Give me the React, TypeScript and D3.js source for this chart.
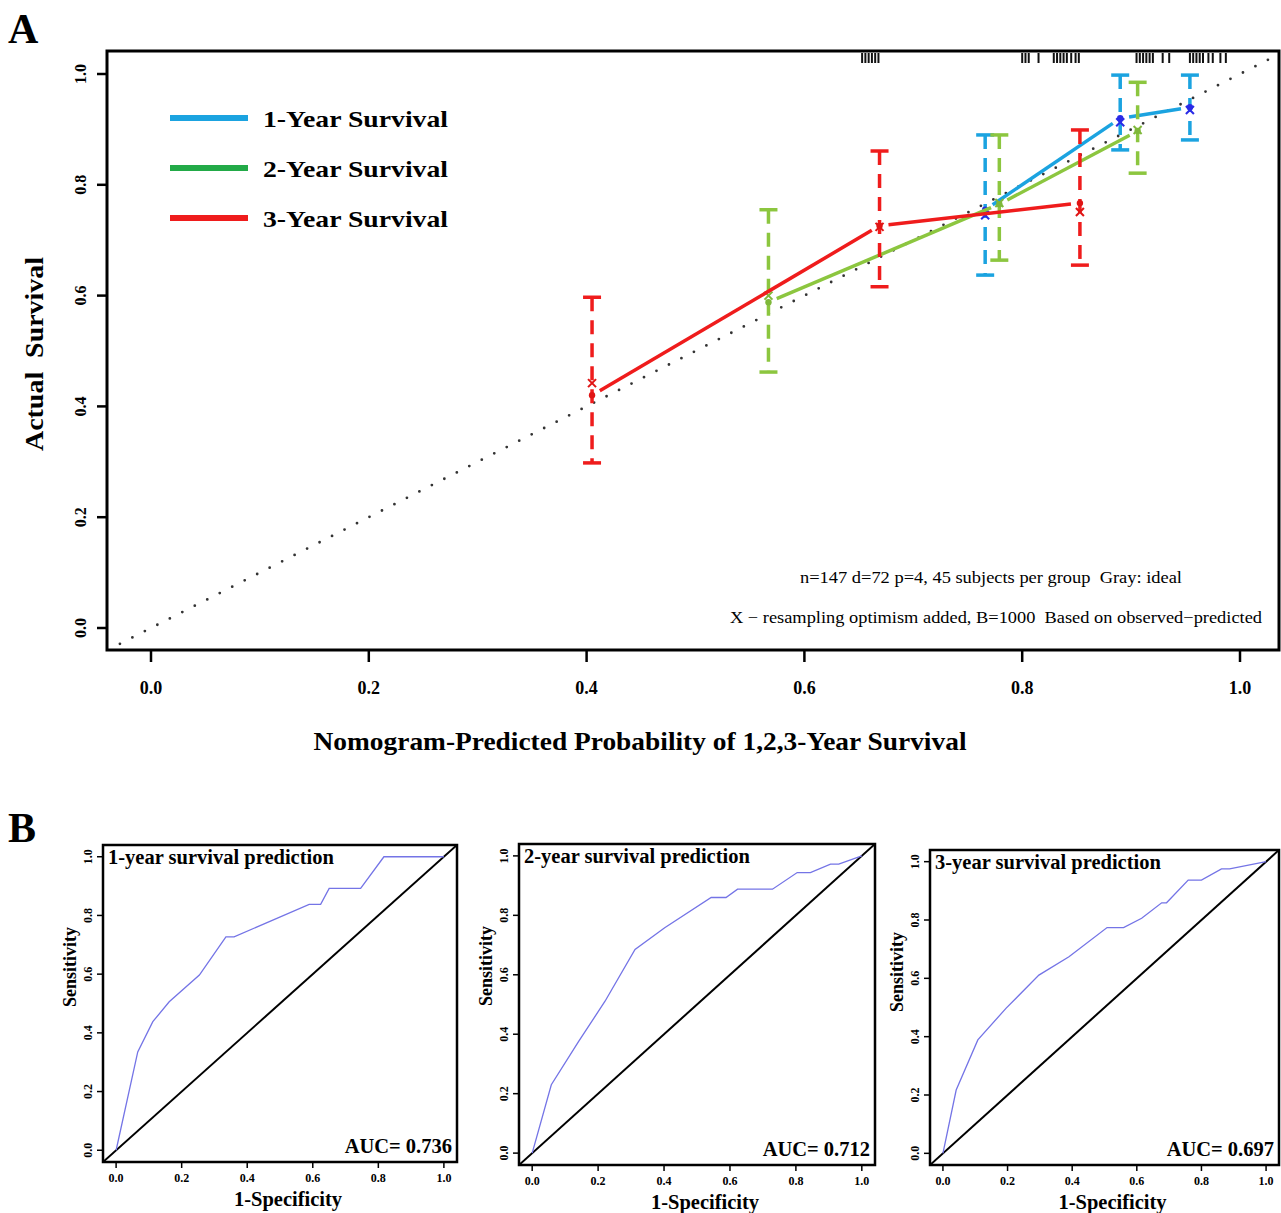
import React, { useEffect } from "react";
import * as d3 from "d3";

// ---------------- Data ----------------
const axisTicks = [0, 0.2, 0.4, 0.6, 0.8, 1.0];

const seriesNames = ["1-Year Survival", "2-Year Survival", "3-Year Survival"];

// 1-year
const pred1 = [0.766, 0.89, 0.954];
const obs1 = [0.755, 0.92, 0.94];
const corr1 = [0.745, 0.913, 0.935];
const lo1 = [0.637, 0.863, 0.881];
const hi1 = [0.89, 0.998, 0.998];
// 2-year
const pred2 = [0.567, 0.779, 0.906];
const obs2 = [0.588, 0.765, 0.897];
const corr2 = [0.6, 0.767, 0.899];
const lo2 = [0.462, 0.664, 0.821];
const hi2 = [0.755, 0.89, 0.985];
// 3-year
const pred3 = [0.405, 0.669, 0.853];
const obs3 = [0.42, 0.726, 0.767];
const corr3 = [0.442, 0.724, 0.751];
const lo3 = [0.298, 0.616, 0.655];
const hi3 = [0.597, 0.861, 0.899];

// rug of predicted values (top)
const rugValues = [
  0.653, 0.656, 0.659, 0.662, 0.665, 0.668,
  0.8, 0.803, 0.806, 0.815,
  0.829, 0.832, 0.835, 0.838, 0.841, 0.845, 0.849, 0.852,
  0.905, 0.908, 0.911, 0.914, 0.917, 0.92, 0.929, 0.935,
  0.954, 0.957, 0.96, 0.963, 0.966, 0.971, 0.975, 0.982, 0.987,
];

const noteLine1 = "n=147 d=72 p=4, 45 subjects per group  Gray: ideal";
const noteLine2 = "X \u2212 resampling optimism added, B=1000  Based on observed\u2212predicted";

// ROC data
const rocTitles = ["1-year survival prediction", "2-year survival prediction", "3-year survival prediction"];
const rocAUC = ["AUC= 0.736", "AUC= 0.712", "AUC= 0.697"];
const roc1X = [0, 0.066, 0.112, 0.162, 0.254, 0.335, 0.36, 0.589, 0.624, 0.65, 0.746, 0.817, 1];
const roc1Y = [0, 0.335, 0.438, 0.506, 0.597, 0.727, 0.727, 0.838, 0.838, 0.892, 0.892, 1, 1];
const roc2X = [0, 0.058, 0.141, 0.221, 0.312, 0.402, 0.543, 0.588, 0.623, 0.729, 0.804, 0.844, 0.905, 0.93, 0.985, 1];
const roc2Y = [0, 0.23, 0.376, 0.511, 0.685, 0.758, 0.86, 0.86, 0.888, 0.888, 0.944, 0.944, 0.972, 0.972, 0.994, 1];
const roc3X = [0, 0.041, 0.108, 0.195, 0.297, 0.39, 0.508, 0.559, 0.615, 0.677, 0.692, 0.759, 0.8, 0.862, 0.887, 1];
const roc3Y = [0, 0.217, 0.389, 0.497, 0.611, 0.674, 0.774, 0.774, 0.806, 0.859, 0.859, 0.937, 0.937, 0.975, 0.975, 1];

// ---------------- Styles ----------------
const SERIF = "'Liberation Serif', 'Times New Roman', Times, serif";
const lineColors = ["#1ba3e0", "#8cc63f", "#ef1c1c"];
const legendColors = ["#1ba3e0", "#22aa48", "#ef1c1c"];
const markColors = ["#2a2ae6", "#7fb83a", "#e01515"];
const PRE = { whiteSpace: "pre" as const };

const W = 1281;
const H = 1213;

// Panel A layout
const A = { left: 107, right: 1279, top: 51, bottom: 650 };
const xA = d3.scaleLinear().domain([0, 1]).range([151, 1240]);
const yA = d3.scaleLinear().domain([0, 1]).range([628, 74]);

function shrinkSeg(x1: number, y1: number, x2: number, y2: number, g: number) {
  const dx = x2 - x1, dy = y2 - y1;
  const L = Math.hypot(dx, dy);
  const ux = dx / L, uy = dy / L;
  return [x1 + ux * g, y1 + uy * g, x2 - ux * g, y2 - uy * g];
}

function Calibration() {
  const series = [
    { pred: pred1, obs: obs1, corr: corr1, lo: lo1, hi: hi1 },
    { pred: pred2, obs: obs2, corr: corr2, lo: lo2, hi: hi2 },
    { pred: pred3, obs: obs3, corr: corr3, lo: lo3, hi: hi3 },
  ];
  const ideal0 = -0.04, ideal1 = 1.035;
  return (
    <g>
      <defs>
        <clipPath id="clipA">
          <rect x={A.left} y={A.top} width={A.right - A.left} height={A.bottom - A.top} />
        </clipPath>
      </defs>
      {/* ideal line */}
      <line
        x1={xA(ideal0)} y1={yA(ideal0)} x2={xA(ideal1)} y2={yA(ideal1)}
        stroke="#333" strokeWidth={2.8} strokeDasharray="0 14" strokeLinecap="round"
        clipPath="url(#clipA)"
      />
      {/* rug */}
      {rugValues.map((v, i) => (
        <line key={"r" + i} x1={xA(v)} x2={xA(v)} y1={53} y2={63} stroke="#111" strokeWidth={2} />
      ))}
      {series.map((s, si) => (
        <g key={"s" + si}>
          {/* error bars */}
          {s.pred.map((p, i) => {
            const x = xA(p);
            return (
              <g key={"e" + i}>
                <line x1={x} x2={x} y1={yA(s.hi[i])} y2={yA(s.lo[i])} stroke={lineColors[si]}
                  strokeWidth={3.5} strokeDasharray="14 9" />
                <line x1={x - 9} x2={x + 9} y1={yA(s.hi[i])} y2={yA(s.hi[i])} stroke={lineColors[si]} strokeWidth={3.5} />
                <line x1={x - 9} x2={x + 9} y1={yA(s.lo[i])} y2={yA(s.lo[i])} stroke={lineColors[si]} strokeWidth={3.5} />
              </g>
            );
          })}
          {/* lines with gaps (type b) */}
          {s.pred.slice(1).map((p, i) => {
            const [a1, b1, a2, b2] = shrinkSeg(xA(s.pred[i]), yA(s.obs[i]), xA(p), yA(s.obs[i + 1]), 9);
            return <line key={"l" + i} x1={a1} y1={b1} x2={a2} y2={b2} stroke={lineColors[si]} strokeWidth={3.5} />;
          })}
          {/* observed points */}
          {s.pred.map((p, i) => (
            <circle key={"o" + i} cx={xA(p)} cy={yA(s.obs[i])} r={3.2} fill={markColors[si]} />
          ))}
          {/* bias corrected X */}
          {s.pred.map((p, i) => {
            const x = xA(p), y = yA(s.corr[i]);
            return (
              <g key={"x" + i} stroke={markColors[si]} strokeWidth={2}>
                <line x1={x - 4} y1={y - 4} x2={x + 4} y2={y + 4} />
                <line x1={x - 4} y1={y + 4} x2={x + 4} y2={y - 4} />
              </g>
            );
          })}
        </g>
      ))}
      {/* box */}
      <rect x={A.left} y={A.top} width={A.right - A.left} height={A.bottom - A.top} fill="none" stroke="#000" strokeWidth={3} />
      {/* x axis */}
      {axisTicks.map((t) => (
        <g key={"xt" + t}>
          <line x1={xA(t)} x2={xA(t)} y1={A.bottom} y2={A.bottom + 12} stroke="#000" strokeWidth={2.5} />
          <text x={xA(t)} y={694} textAnchor="middle" fontFamily={SERIF} fontWeight="bold" fontSize={18}>
            {t.toFixed(1)}
          </text>
        </g>
      ))}
      {/* y axis */}
      {axisTicks.map((t) => (
        <g key={"yt" + t}>
          <line x1={A.left - 10} x2={A.left} y1={yA(t)} y2={yA(t)} stroke="#000" strokeWidth={2.5} />
          <text transform={`translate(86,${yA(t)}) rotate(-90)`} textAnchor="middle" fontFamily={SERIF} fontWeight="bold" fontSize={16}>
            {t.toFixed(1)}
          </text>
        </g>
      ))}
      <text transform="translate(43,354) rotate(-90)" textAnchor="middle" fontFamily={SERIF} fontWeight="bold" fontSize={25}
        textLength={194} lengthAdjust="spacingAndGlyphs" style={PRE}>
        {"Actual  Survival"}
      </text>
      <text x={640} y={750} textAnchor="middle" fontFamily={SERIF} fontWeight="bold" fontSize={25}
        textLength={653} lengthAdjust="spacingAndGlyphs">
        Nomogram-Predicted Probability of 1,2,3-Year Survival
      </text>
      {/* legend */}
      {seriesNames.map((n, i) => (
        <g key={"lg" + i}>
          <line x1={170} x2={248} y1={118 + i * 50} y2={118 + i * 50} stroke={legendColors[i]} strokeWidth={6} />
          <text x={263} y={127 + i * 50} fontFamily={SERIF} fontWeight="bold" fontSize={24}
            textLength={185} lengthAdjust="spacingAndGlyphs">
            {n}
          </text>
        </g>
      ))}
      {/* notes */}
      <text x={991} y={583} textAnchor="middle" fontFamily={SERIF} fontSize={16} textLength={382} lengthAdjust="spacingAndGlyphs" style={PRE}>
        {noteLine1}
      </text>
      <text x={996} y={623} textAnchor="middle" fontFamily={SERIF} fontSize={16} textLength={532} lengthAdjust="spacingAndGlyphs" style={PRE}>
        {noteLine2}
      </text>
      <text x={8} y={43} fontFamily={SERIF} fontWeight="bold" fontSize={42}>A</text>
    </g>
  );
}

const rocPanels = [
  { left: 103, top: 845, width: 354, height: 317, xs: roc1X, ys: roc1Y },
  { left: 519, top: 844, width: 356, height: 321, xs: roc2X, ys: roc2Y },
  { left: 930, top: 850, width: 349, height: 315, xs: roc3X, ys: roc3Y },
];

function RocPanel({ p, idx }: { p: any; idx: number }) {
  const x = d3.scaleLinear().domain([-0.04, 1.04]).range([p.left, p.left + p.width]);
  const y = d3.scaleLinear().domain([-0.04, 1.04]).range([p.top + p.height, p.top]);
  const pts: [number, number][] = p.xs.map((v: number, i: number) => [v, p.ys[i]]);
  const line = d3.line<[number, number]>().x((d) => x(d[0])).y((d) => y(d[1]));
  const bottom = p.top + p.height;
  const cx = p.left + p.width / 2 + 8;
  const cy = p.top + 122;
  return (
    <g>
      <defs>
        <clipPath id={"clipR" + idx}>
          <rect x={p.left} y={p.top} width={p.width} height={p.height} />
        </clipPath>
      </defs>
      <line x1={x(-0.04)} y1={y(-0.04)} x2={x(1.04)} y2={y(1.04)} stroke="#000" strokeWidth={2} clipPath={`url(#clipR${idx})`} />
      <path d={line(pts) || ""} fill="none" stroke="#7474e6" strokeWidth={1.3} />
      <rect x={p.left} y={p.top} width={p.width} height={p.height} fill="none" stroke="#000" strokeWidth={2.5} />
      {axisTicks.map((t) => (
        <g key={"x" + t}>
          <line x1={x(t)} x2={x(t)} y1={bottom} y2={bottom + 6} stroke="#000" strokeWidth={1.5} />
          <text x={x(t)} y={bottom + 20} textAnchor="middle" fontFamily={SERIF} fontWeight="bold" fontSize={12}>
            {t.toFixed(1)}
          </text>
        </g>
      ))}
      {axisTicks.map((t) => (
        <g key={"y" + t}>
          <line x1={p.left - 6} x2={p.left} y1={y(t)} y2={y(t)} stroke="#000" strokeWidth={1.5} />
          <text transform={`translate(${p.left - 11},${y(t)}) rotate(-90)`} textAnchor="middle" fontFamily={SERIF} fontWeight="bold" fontSize={12}>
            {t.toFixed(1)}
          </text>
        </g>
      ))}
      <text x={cx} y={bottom + 44} textAnchor="middle" fontFamily={SERIF} fontWeight="bold" fontSize={20.5}>1-Specificity</text>
      <text transform={`translate(${p.left - 27},${cy}) rotate(-90)`} textAnchor="middle" fontFamily={SERIF} fontWeight="bold" fontSize={18}>
        Sensitivity
      </text>
      <text x={p.left + 5} y={p.top + 19} fontFamily={SERIF} fontWeight="bold" fontSize={20.5}>{rocTitles[idx]}</text>
      <text x={p.left + p.width - 5} y={bottom - 9} textAnchor="end" fontFamily={SERIF} fontWeight="bold" fontSize={20.5}>{rocAUC[idx]}</text>
    </g>
  );
}

export default function App() {
  useEffect(() => {
    document.body.style.margin = "0";
  }, []);
  return (
    <svg width={W} height={H} style={{ display: "block", position: "absolute", left: 0, top: 0, background: "#fff" }}>
      <rect x={0} y={0} width={W} height={H} fill="#fff" />
      <Calibration />
      <text x={8} y={842} fontFamily={SERIF} fontWeight="bold" fontSize={42}>B</text>
      {rocPanels.map((p, i) => (
        <RocPanel key={i} p={p} idx={i} />
      ))}
    </svg>
  );
}
